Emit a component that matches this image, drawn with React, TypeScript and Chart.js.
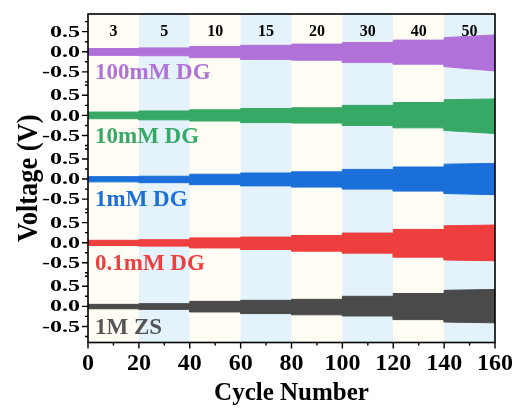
import React, { useEffect, useRef } from "react";
import { Chart, registerables } from "chart.js";

Chart.register(...registerables);

// ---- data ----
const bandEdges = [0, 20, 40, 60, 80, 100, 120, 140, 160];
const currentLabels = ["3", "5", "10", "15", "20", "30", "40", "50"];
const bandColors = ["#FFFDF4", "#E4F2FC"];

const seriesNames = ["1M ZS", "0.1mM DG", "1mM DG", "10mM DG", "100mM DG"];
const seriesColors = ["#4A4A4A", "#EF3E3E", "#1B6FD8", "#37A866", "#B072D9"];
const labelColors = ["#555555", "#EF3E3E", "#1B6FD8", "#37A866", "#B072D9"];
const seriesOffsets = [0, 1.585, 3.17, 4.755, 6.34];

// envelope amplitude (V) per current band (8 bands) + value at the last cycle
const zsUpper = [0.05, 0.067, 0.125, 0.15, 0.175, 0.25, 0.32, 0.4, 0.42];
const zsLower = [0.06, 0.075, 0.14, 0.18, 0.21, 0.24, 0.33, 0.39, 0.41];
const dg01Upper = [0.06, 0.075, 0.12, 0.14, 0.18, 0.24, 0.33, 0.42, 0.44];
const dg01Lower = [0.07, 0.085, 0.13, 0.17, 0.21, 0.26, 0.36, 0.43, 0.45];
const dg1Upper = [0.06, 0.07, 0.12, 0.15, 0.18, 0.24, 0.3, 0.37, 0.39];
const dg1Lower = [0.07, 0.09, 0.14, 0.17, 0.2, 0.25, 0.3, 0.36, 0.39];
const dg10Upper = [0.083, 0.11, 0.14, 0.17, 0.19, 0.25, 0.32, 0.39, 0.41];
const dg10Lower = [0.083, 0.11, 0.14, 0.18, 0.19, 0.25, 0.31, 0.375, 0.45];
const dg100Upper = [0.08, 0.096, 0.13, 0.16, 0.19, 0.23, 0.29, 0.35, 0.42];
const dg100Lower = [0.09, 0.1, 0.146, 0.19, 0.21, 0.27, 0.31, 0.37, 0.48];

const upperSets = [zsUpper, dg01Upper, dg1Upper, dg10Upper, dg100Upper];
const lowerSets = [zsLower, dg01Lower, dg1Lower, dg10Lower, dg100Lower];

const yTickValues = [-0.5, 0, 0.5];
const yTickLabels = ["-0.5", "0.0", "0.5"];
const yMinorValues = [-0.75, -0.25, 0.25, 0.75];

const FONT = '"Liberation Serif", "Times New Roman", serif';

function envelope(amps: number[], offset: number, sign: number) {
  const pts: { x: number; y: number }[] = [];
  const n = bandEdges.length - 1;
  for (let i = 0; i < n; i++) {
    const a = amps[i];
    const aEnd = i === n - 1 ? amps[n] : a;
    pts.push({ x: bandEdges[i], y: offset + sign * a });
    pts.push({ x: bandEdges[i + 1], y: offset + sign * aEnd });
  }
  return pts;
}

const decorPlugin = {
  id: "decor",
  beforeDatasetsDraw(chart: any) {
    const { ctx, chartArea, scales } = chart;
    const x = scales.x;
    ctx.save();
    for (let i = 0; i < bandEdges.length - 1; i++) {
      const x0 = x.getPixelForValue(bandEdges[i]);
      const x1 = x.getPixelForValue(bandEdges[i + 1]);
      ctx.fillStyle = bandColors[i % 2];
      ctx.fillRect(x0, chartArea.top, x1 - x0, chartArea.bottom - chartArea.top);
    }
    ctx.restore();
  },
  afterDatasetsDraw(chart: any) {
    const { ctx, chartArea, scales } = chart;
    const x = scales.x;
    const y = scales.y;
    ctx.save();
    // band labels (current densities)
    ctx.fillStyle = "#000";
    ctx.font = `bold 16px ${FONT}`;
    ctx.textAlign = "center";
    ctx.textBaseline = "middle";
    for (let i = 0; i < currentLabels.length; i++) {
      const cx = (x.getPixelForValue(bandEdges[i]) + x.getPixelForValue(bandEdges[i + 1])) / 2;
      ctx.fillText(currentLabels[i], cx, chartArea.top + 18);
    }
    // series labels
    ctx.font = `bold 23px ${FONT}`;
    ctx.textAlign = "left";
    for (let s = 0; s < seriesNames.length; s++) {
      ctx.fillStyle = labelColors[s];
      ctx.fillText(seriesNames[s], chartArea.left + 7, y.getPixelForValue(seriesOffsets[s] - 0.53));
    }
    ctx.restore();
  },
  afterDraw(chart: any) {
    const { ctx, chartArea, scales } = chart;
    const x = scales.x;
    const y = scales.y;
    const { left, right, top, bottom } = chartArea;
    ctx.save();
    ctx.strokeStyle = "#000";
    ctx.lineWidth = 1.6;
    ctx.strokeRect(left, top, right - left, bottom - top);
    ctx.lineWidth = 1.4;
    ctx.beginPath();
    // x ticks
    for (let v = 0; v <= 160; v += 10) {
      const px = x.getPixelForValue(v);
      const len = v % 20 === 0 ? 6 : 3;
      ctx.moveTo(px, bottom);
      ctx.lineTo(px, bottom + len);
    }
    // y ticks
    for (const off of seriesOffsets) {
      for (const v of yTickValues) {
        const py = y.getPixelForValue(off + v);
        ctx.moveTo(left, py);
        ctx.lineTo(left - 6, py);
      }
      for (const v of yMinorValues) {
        const py = y.getPixelForValue(off + v);
        if (py < top || py > bottom) continue;
        ctx.moveTo(left, py);
        ctx.lineTo(left - 3, py);
      }
    }
    ctx.stroke();
    // y tick labels (stretched horizontally like the figure)
    ctx.fillStyle = "#000";
    ctx.font = `bold 16px ${FONT}`;
    ctx.textAlign = "right";
    ctx.textBaseline = "middle";
    for (const off of seriesOffsets) {
      for (let k = 0; k < yTickValues.length; k++) {
        const py = y.getPixelForValue(off + yTickValues[k]);
        ctx.save();
        ctx.translate(left - 8, py + 1);
        ctx.scale(1.5, 1);
        ctx.fillText(yTickLabels[k], 0, 0);
        ctx.restore();
      }
    }
    // y title
    ctx.save();
    ctx.translate(37, (top + bottom) / 2);
    ctx.rotate(-Math.PI / 2);
    ctx.scale(0.88, 1);
    ctx.font = `bold 30px ${FONT}`;
    ctx.textAlign = "center";
    ctx.textBaseline = "alphabetic";
    ctx.fillText("Voltage (V)", 0, 0);
    ctx.restore();
    ctx.restore();
  },
};

export default function App() {
  const ref = useRef<HTMLCanvasElement | null>(null);
  useEffect(() => {
    if (!ref.current) return;
    const datasets: any[] = [];
    for (let s = 0; s < seriesNames.length; s++) {
      datasets.push({
        label: seriesNames[s] + " upper",
        data: envelope(upperSets[s], seriesOffsets[s], 1),
        borderColor: seriesColors[s],
        backgroundColor: seriesColors[s],
        borderWidth: 1,
        pointRadius: 0,
        tension: 0,
        fill: "+1",
      });
      datasets.push({
        label: seriesNames[s] + " lower",
        data: envelope(lowerSets[s], seriesOffsets[s], -1),
        borderColor: seriesColors[s],
        backgroundColor: seriesColors[s],
        borderWidth: 1,
        pointRadius: 0,
        tension: 0,
        fill: false,
      });
    }
    const chart = new Chart(ref.current, {
      type: "line",
      data: { datasets },
      options: {
        animation: false,
        responsive: false,
        parsing: false as any,
        layout: { padding: { left: 8, top: 14, right: 24, bottom: 0 } },
        plugins: { legend: { display: false }, tooltip: { enabled: false } },
        scales: {
          x: {
            type: "linear",
            min: 0,
            max: 160,
            grid: { display: false, drawTicks: false },
            border: { display: false },
            ticks: {
              stepSize: 20,
              autoSkip: false,
              maxRotation: 0,
              padding: 7,
              color: "#000",
              font: { family: FONT, size: 24, weight: "bold" },
            },
            title: {
              display: true,
              text: "Cycle Number",
              color: "#000",
              font: { family: FONT, size: 25, weight: "bold" },
              padding: { top: 0, bottom: 3 },
            },
            afterFit: (s: any) => {
              s.height = 69.5;
            },
          },
          y: {
            type: "linear",
            min: -0.9,
            max: 7.28,
            grid: { display: false, drawTicks: false },
            border: { display: false },
            ticks: { display: false },
            afterFit: (s: any) => {
              s.width = 80;
            },
          },
        },
      } as any,
      plugins: [decorPlugin],
    });
    return () => chart.destroy();
  }, []);
  return (
    <div style={{ position: "fixed", left: 0, top: 0, width: 520, height: 412, background: "#fff" }}>
      <canvas ref={ref} width={520} height={412} style={{ display: "block", width: 520, height: 412 }} />
    </div>
  );
}
